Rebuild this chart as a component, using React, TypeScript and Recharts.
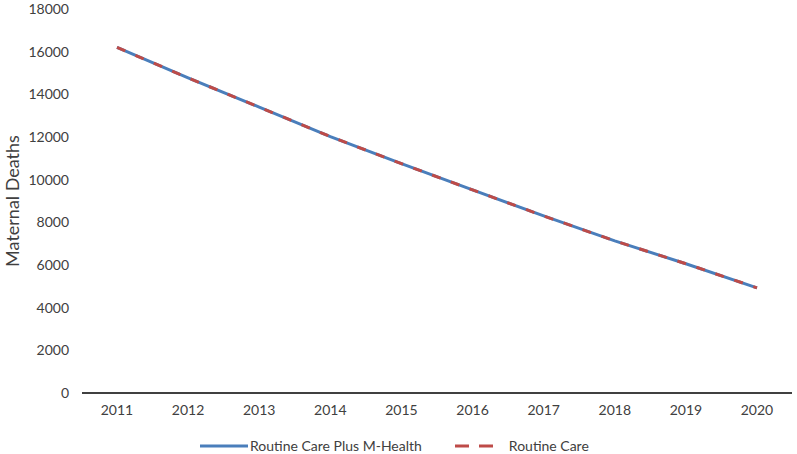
import { CartesianGrid, Legend, Line, LineChart, XAxis, YAxis } from "recharts";

const years = ["2011", "2012", "2013", "2014", "2015", "2016", "2017", "2018", "2019", "2020"];
const plusMHealth = [16200, 14770, 13400, 12020, 10750, 9520, 8300, 7130, 6060, 4930];
const routineCare = [16200, 14770, 13400, 12020, 10750, 9520, 8300, 7130, 6060, 4930];
const yTicks = [0, 2000, 4000, 6000, 8000, 10000, 12000, 14000, 16000, 18000];

const BLUE = "#4a7ebb";
const RED = "#be4b48";
const TEXT = "#404040";
const FONT = "Lato, 'Open Sans', sans-serif";

const data = years.map((year, i) => ({
  year,
  plus: plusMHealth[i],
  routine: routineCare[i],
}));

const LegendContent = () => (
  <div
    style={{
      display: "flex",
      alignItems: "center",
      paddingTop: 14,
      fontFamily: FONT,
      fontSize: 14,
      color: TEXT,
      marginLeft: 200,
    }}
  >
    <svg width={48} height={6}>
      <line x1={0} y1={3} x2={48} y2={3} stroke={BLUE} strokeWidth={3} />
    </svg>
    <span style={{ marginLeft: 2 }}>Routine Care Plus M-Health</span>
    <svg width={40} height={6} style={{ marginLeft: 33 }}>
      <line x1={0} y1={3} x2={40} y2={3} stroke={RED} strokeWidth={3} strokeDasharray="14 10" />
    </svg>
    <span style={{ marginLeft: 14 }}>Routine Care</span>
  </div>
);

export default function App() {
  return (
    <div style={{ position: "absolute", left: 0, top: 0, background: "#fff" }}>
      <LineChart
        width={797}
        height={454}
        data={data}
        margin={{ top: 9, right: 5, left: 0, bottom: 0 }}
      >
        <CartesianGrid horizontal={false} vertical={false} />
        <XAxis
          dataKey="year"
          axisLine={{ stroke: "#000", strokeWidth: 1.5 }}
          tickLine={false}
          tickSize={0}
          tickMargin={12}
          height={30}
          padding={{ left: 35, right: 35 }}
          tick={{ fontSize: 14, fill: TEXT, fontFamily: FONT }}
        />
        <YAxis
          domain={[0, 18000]}
          ticks={yTicks}
          interval={0}
          axisLine={false}
          tickLine={false}
          tickSize={0}
          tickMargin={13}
          width={82}
          tick={{ fontSize: 14, fill: TEXT, fontFamily: FONT }}
          label={{
            value: "Maternal Deaths",
            angle: -90,
            position: "insideLeft",
            dx: 8,
            style: { fontSize: 18, fill: TEXT, fontFamily: FONT, textAnchor: "middle" },
          }}
        />
        <Legend verticalAlign="bottom" height={31} content={<LegendContent />} />
        <Line
          type="linear"
          dataKey="plus"
          name="Routine Care Plus M-Health"
          stroke={BLUE}
          strokeWidth={3}
          dot={false}
          isAnimationActive={false}
        />
        <Line
          type="linear"
          dataKey="routine"
          name="Routine Care"
          stroke={RED}
          strokeWidth={3}
          strokeDasharray="9 11"
          dot={false}
          isAnimationActive={false}
        />
      </LineChart>
    </div>
  );
}
